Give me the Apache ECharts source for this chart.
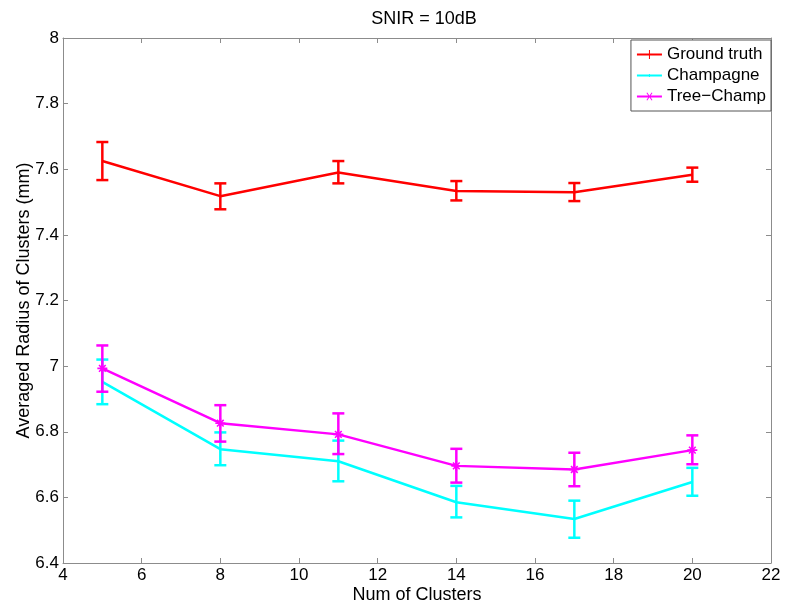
<!DOCTYPE html>
<html><head><meta charset="utf-8">
<script src="https://cdn.jsdelivr.net/npm/echarts@6/dist/echarts.min.js"></script>
<style>html,body{margin:0;padding:0;background:#fff}#c{width:788px;height:610px}</style>
</head><body><div id="c"></div><script>
const clusters = [5, 8, 11, 14, 17, 20];
const groundTruth     = [7.625, 7.518, 7.590, 7.534, 7.530, 7.583];
const groundTruthLow  = [7.567, 7.478, 7.557, 7.505, 7.503, 7.562];
const groundTruthHigh = [7.683, 7.557, 7.625, 7.564, 7.558, 7.605];
const champagne     = [6.952, 6.747, 6.710, 6.585, 6.534, 6.647];
const champagneLow  = [6.884, 6.698, 6.649, 6.539, 6.477, 6.605];
const champagneHigh = [7.020, 6.798, 6.773, 6.635, 6.590, 6.690];
const treeChamp     = [6.993, 6.826, 6.792, 6.696, 6.685, 6.744];
const treeChampLow  = [6.922, 6.770, 6.732, 6.645, 6.634, 6.701];
const treeChampHigh = [7.063, 6.881, 6.856, 6.748, 6.736, 6.789];
const seriesNames = ['Ground truth', 'Champagne', 'Tree\u2212Champ'];
const colors = ['#ff0000', '#00ffff', '#ff00ff'];

const FONT = '"Liberation Sans", Arial, sans-serif';
const AX = '#8c8c8c';

function pairs(ys){ return clusters.map((x,i)=>[x, ys[i]]); }
function triples(lo, hi){ return clusters.map((x,i)=>[x, lo[i], hi[i]]); }

function errRender(color){
  return function(params, api){
    const x = api.value(0), lo = api.value(1), hi = api.value(2);
    const pl = api.coord([x, lo]), ph = api.coord([x, hi]);
    const w = 6, st = {stroke: color, lineWidth: 2.5};
    return {type:'group', children:[
      {type:'line', shape:{x1:pl[0], y1:pl[1], x2:ph[0], y2:ph[1]}, style:st},
      {type:'line', shape:{x1:ph[0]-w, y1:ph[1], x2:ph[0]+w, y2:ph[1]}, style:st},
      {type:'line', shape:{x1:pl[0]-w, y1:pl[1], x2:pl[0]+w, y2:pl[1]}, style:st}
    ]};
  };
}

const asterisk = 'path://M4.2,0 L5.8,0 L5.8,10 L4.2,10 Z M0,4.2 L10,4.2 L10,5.8 L0,5.8 Z M1.1,2.2 L2.2,1.1 L8.9,7.8 L7.8,8.9 Z M7.8,1.1 L8.9,2.2 L2.2,8.9 L1.1,7.8 Z';
const iconPlus = 'path://M0,3.5 L25,3.5 L25,5.5 L0,5.5 Z M12,0 L13,0 L13,9 L12,9 Z';
const iconDot = 'path://M0,3.5 L25,3.5 L25,5.5 L0,5.5 Z M12,3 L13,3 L13,6 L12,6 Z M0,0 L0.01,0 L0.01,0.01 Z M0,9 L0.01,9 L0.01,8.99 Z';
const iconX = 'path://M0,3.5 L25,3.5 L25,5.5 L0,5.5 Z M9.5,1 L10.3,0.4 L15.5,8 L14.7,8.6 Z M14.7,0.4 L15.5,1 L10.3,8.6 L9.5,8 Z';

const option = {
  backgroundColor: '#fff',
  animation: false,
  title: {text: 'SNIR = 10dB', left: 419, top: 5, textAlign: 'center',
    textStyle: {fontFamily: FONT, fontSize: 18, fontWeight: 'normal', color: '#000'}},
  grid: {left: 63, right: 17, top: 38, bottom: 47, containLabel: false},
  legend: {
    orient: 'vertical', right: 17, top: 40, padding: [6, 5, 6, 6],
    itemGap: 4, itemWidth: 25, itemHeight: 9, itemTextGap: 5,
    borderColor: '#555', borderWidth: 1, backgroundColor: '#fff',
    textStyle: {fontFamily: FONT, fontSize: 17, color: '#000'},
    data: [
      {name: seriesNames[0], icon: iconPlus},
      {name: seriesNames[1], icon: iconDot},
      {name: seriesNames[2], icon: iconX}
    ]
  },
  xAxis: [
    {type: 'value', min: 4, max: 22, interval: 2, position: 'bottom',
     name: 'Num of Clusters', nameLocation: 'middle', nameGap: 23, nameMoveOverlap: false,
     nameTextStyle: {fontFamily: FONT, fontSize: 18, color: '#000'},
     axisLine: {show: true, onZero: false, lineStyle: {color: AX, width: 1}},
     axisTick: {show: true, inside: true, length: 5, lineStyle: {color: AX}},
     axisLabel: {fontFamily: FONT, fontSize: 17, color: '#000', margin: 4},
     splitLine: {show: false}},
    {type: 'value', min: 4, max: 22, interval: 2, position: 'top',
     axisLine: {show: true, onZero: false, lineStyle: {color: AX, width: 1}},
     axisTick: {show: true, inside: true, length: 5, lineStyle: {color: AX}},
     axisLabel: {show: false}, splitLine: {show: false}}
  ],
  yAxis: [
    {type: 'value', min: 6.4, max: 8, interval: 0.2, position: 'left',
     name: 'Averaged Radius of Clusters (mm)', nameLocation: 'middle', nameGap: 30, nameMoveOverlap: false,
     nameTextStyle: {fontFamily: FONT, fontSize: 18, color: '#000'},
     axisLine: {show: true, onZero: false, lineStyle: {color: AX, width: 1}},
     axisTick: {show: true, inside: true, length: 5, lineStyle: {color: AX}},
     axisLabel: {fontFamily: FONT, fontSize: 17, color: '#000', margin: 4,
       formatter: v => String(Math.round(v*10)/10)},
     splitLine: {show: false}},
    {type: 'value', min: 6.4, max: 8, interval: 0.2, position: 'right',
     axisLine: {show: true, onZero: false, lineStyle: {color: AX, width: 1}},
     axisTick: {show: true, inside: true, length: 5, lineStyle: {color: AX}},
     axisLabel: {show: false}, splitLine: {show: false}}
  ],
  series: [
    {name: seriesNames[0], type: 'line', data: pairs(groundTruth), color: colors[0],
     symbol: 'none', lineStyle: {width: 2.5, color: colors[0]}, z: 3},
    {name: seriesNames[0] + ' err', type: 'custom', data: triples(groundTruthLow, groundTruthHigh),
     renderItem: errRender(colors[0]), encode: {x: 0, y: [1, 2]}, z: 3},
    {name: seriesNames[1], type: 'line', data: pairs(champagne), color: colors[1],
     symbol: 'none', lineStyle: {width: 2.5, color: colors[1]}, z: 4},
    {name: seriesNames[1] + ' err', type: 'custom', data: triples(champagneLow, champagneHigh),
     renderItem: errRender(colors[1]), encode: {x: 0, y: [1, 2]}, z: 4},
    {name: seriesNames[2], type: 'line', data: pairs(treeChamp), color: colors[2],
     symbol: asterisk, symbolSize: 10, showAllSymbol: true,
     itemStyle: {color: colors[2]}, lineStyle: {width: 2.5, color: colors[2]}, z: 5},
    {name: seriesNames[2] + ' err', type: 'custom', data: triples(treeChampLow, treeChampHigh),
     renderItem: errRender(colors[2]), encode: {x: 0, y: [1, 2]}, z: 5}
  ]
};
const chart = echarts.init(document.getElementById('c'), null, {renderer: 'canvas'});
chart.setOption(option);
</script></body></html>
